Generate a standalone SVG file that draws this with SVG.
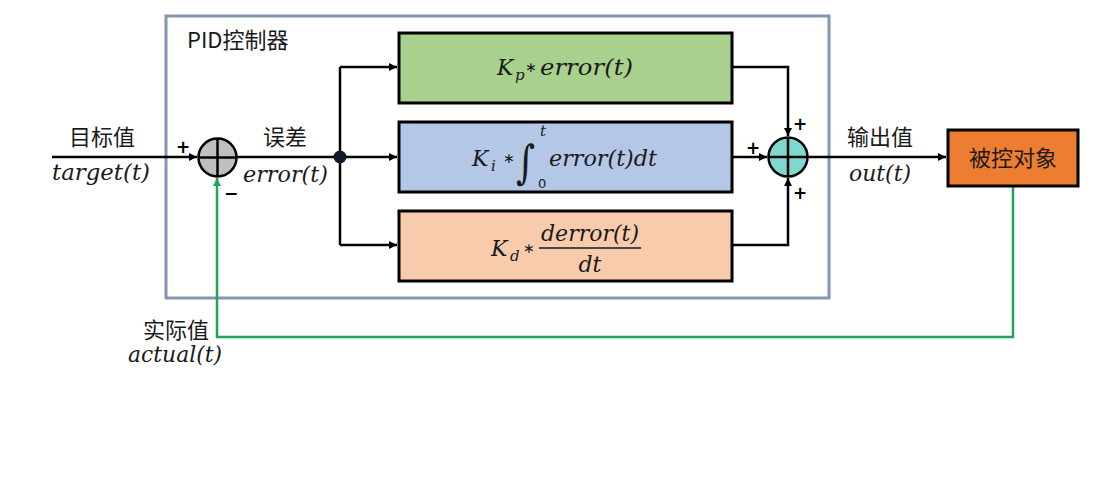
<svg xmlns="http://www.w3.org/2000/svg" width="1116" height="479" viewBox="0 0 1116 479">
<defs>
<style>
.cn{font-family:"Noto Sans CJK SC","Noto Sans",sans-serif;font-size:22px;fill:#1a1a1a}
.m{font-family:"DejaVu Serif","Liberation Serif",serif;font-style:italic;font-size:22px;fill:#1a1a1a}
.sub{font-family:"DejaVu Serif","Liberation Serif",serif;font-style:italic;font-size:15px;fill:#1a1a1a}
.op{font-family:"DejaVu Sans",sans-serif;font-size:14px;fill:#1a1a1a}
.sg{font-family:"DejaVu Sans",sans-serif;font-size:17px;font-weight:bold;fill:#000}
.ln{fill:none;stroke:#000;stroke-width:2.5}
.box{stroke:#000;stroke-width:3}
</style>
<marker id="ah" viewBox="0 0 10 10" refX="10" refY="5" markerWidth="10" markerHeight="8" markerUnits="userSpaceOnUse" orient="auto"><path d="M0,0 L10,5 L0,10 z" fill="#000"/></marker>
<marker id="ahg" viewBox="0 0 10 10" refX="10" refY="5" markerWidth="10" markerHeight="8" markerUnits="userSpaceOnUse" orient="auto"><path d="M0,0 L10,5 L0,10 z" fill="#22a35a"/></marker>
</defs>
<rect width="1116" height="479" fill="#fff"/>

<g id="pid-controller">
<rect x="166" y="16" width="663" height="282" fill="none" stroke="#8497b0" stroke-width="3"/>
<text x="187" y="48" class="cn" font-size="23">PID控制器</text>
</g>

<g id="connectors">
<path class="ln" d="M52,157 H197" marker-end="url(#ah)"/>
<path class="ln" d="M237,157 H340"/>
<path class="ln" d="M340,67 V245"/>
<path class="ln" d="M340,67 H397" marker-end="url(#ah)"/>
<path class="ln" d="M340,157 H397" marker-end="url(#ah)"/>
<path class="ln" d="M340,245 H397" marker-end="url(#ah)"/>
<path class="ln" d="M732,67 H788 V136" marker-end="url(#ah)"/>
<path class="ln" d="M732,157 H767" marker-end="url(#ah)"/>
<path class="ln" d="M732,245 H788 V178" marker-end="url(#ah)"/>
<path class="ln" d="M808,157 H946" marker-end="url(#ah)"/>
<path fill="none" stroke="#22a35a" stroke-width="2.5" d="M1013,187 V337 H217 V178" marker-end="url(#ahg)"/>
</g>

<g id="sum1">
<circle cx="217.5" cy="157.5" r="19" fill="#bfbfbf" stroke="#000" stroke-width="2.5"/>
<path class="ln" d="M198.5,157.5 H236.5 M217.5,138.5 V176.5"/>
<text x="183" y="153" class="sg" text-anchor="middle">+</text>
<text x="231" y="199" class="sg" text-anchor="middle" font-size="12">−</text>
</g>

<g id="junction">
<circle cx="340" cy="157" r="6.5" fill="#10182a"/>
</g>

<g id="labels-left">
<text x="102" y="145" class="cn" text-anchor="middle">目标值</text>
<text x="52" y="180" class="m" textLength="98" lengthAdjust="spacingAndGlyphs">target(t)</text>
<text x="285" y="145" class="cn" text-anchor="middle">误差</text>
<text x="243" y="182" class="m" textLength="85" lengthAdjust="spacingAndGlyphs">error(t)</text>
</g>

<g id="p-block">
<rect class="box" x="399" y="33" width="333" height="70" fill="#a9d18e"/>
<text x="497" y="75" class="m">K</text>
<text x="515" y="80" class="sub">p</text>
<text x="531" y="72" class="op" text-anchor="middle">∗</text>
<text x="540" y="75" class="m" textLength="93" lengthAdjust="spacingAndGlyphs">error(t)</text>
</g>

<g id="i-block">
<rect class="box" x="399" y="122" width="333" height="70" fill="#b4c7e7"/>
<text x="472" y="166" class="m">K</text>
<text x="491" y="171" class="sub">i</text>
<text x="509" y="163" class="op" text-anchor="middle">∗</text>
<text font-family="DejaVu Serif,serif" fill="#1a1a1a"><tspan x="516" y="178" font-size="46" textLength="19" lengthAdjust="spacingAndGlyphs">∫</tspan><tspan x="540" y="136" font-size="15" font-style="italic">t</tspan><tspan x="538" y="188" font-size="13" font-family="DejaVu Sans,sans-serif">0</tspan></text>
<text x="549" y="166" class="m" textLength="108" lengthAdjust="spacingAndGlyphs">error(t)dt</text>
</g>

<g id="d-block">
<rect class="box" x="399" y="211" width="333" height="70" fill="#f8cbad"/>
<text x="491" y="256" class="m">K</text>
<text x="510" y="261" class="sub">d</text>
<text x="529" y="253" class="op" text-anchor="middle">∗</text>
<text x="541" y="241" class="m" textLength="98" lengthAdjust="spacingAndGlyphs">derror(t)</text>
<line x1="539" y1="248" x2="641" y2="248" stroke="#1a1a1a" stroke-width="1.5"/>
<text x="590" y="272" class="m" text-anchor="middle">dt</text>
</g>

<g id="sum2">
<circle cx="788" cy="157" r="19.5" fill="#7fd8d0" stroke="#000" stroke-width="2.5"/>
<path class="ln" d="M768.5,157 H807.5 M788,137.5 V176.5"/>
<text x="800" y="130" class="sg" text-anchor="middle">+</text>
<text x="753" y="154" class="sg" text-anchor="middle">+</text>
<text x="800" y="199" class="sg" text-anchor="middle">+</text>
</g>

<g id="labels-right">
<text x="880" y="145" class="cn" text-anchor="middle">输出值</text>
<text x="849" y="181" class="m" textLength="62" lengthAdjust="spacingAndGlyphs">out(t)</text>
</g>

<g id="plant">
<rect class="box" x="948" y="130" width="130" height="56" fill="#ed7d31"/>
<text x="1013" y="166" class="cn" text-anchor="middle" font-size="23">被控对象</text>
</g>

<g id="feedback-labels">
<text x="209" y="338" class="cn" text-anchor="end">实际值</text>
<text x="128" y="362" class="m" textLength="94" lengthAdjust="spacingAndGlyphs">actual(t)</text>
</g>
</svg>
